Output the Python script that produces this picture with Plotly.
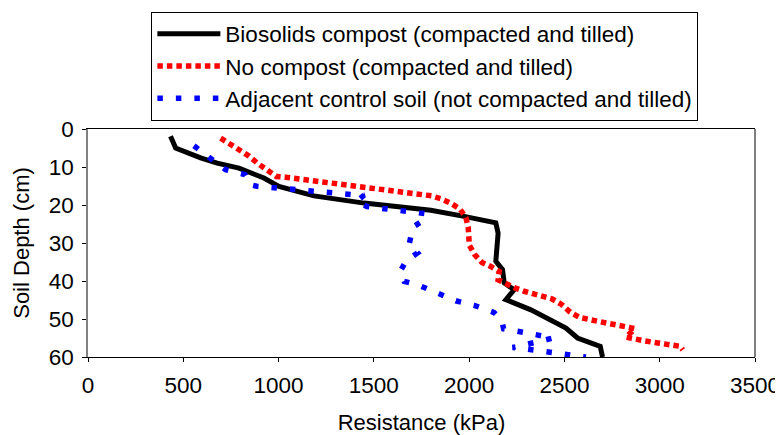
import plotly.graph_objects as go

# Biosolids compost (compacted and tilled)
bio_x = [433, 460, 591, 678, 792, 923, 1002, 1186, 1449, 1799, 1974, 2140, 2152, 2140,
         2175, 2184, 2236, 2193, 2324, 2508, 2569, 2688, 2700]
bio_y = [1.9, 5.0, 7.6, 9.0, 10.3, 12.9, 15.1, 17.6, 19.5, 21.4, 23.0, 24.7, 27.4, 34.8,
         37.0, 40.5, 42.3, 44.9, 47.6, 52.4, 55.0, 57.2, 60.0]

# No compost (compacted and tilled)
no_x = [696, 745, 792, 841, 889, 937, 988, 1037, 1133, 1350, 1562, 1611, 1804, 1853, 1902,
        1951, 1983, 1995, 2001, 2001, 2030, 2067, 2114, 2158, 2152, 2193, 2240, 2289,
        2338, 2385, 2434, 2483, 2530, 2580, 2629, 2676, 2725, 2772, 2821, 2869, 2823,
        2867, 2916, 2963, 3012, 3059, 3108, 3121]
no_y = [2.4, 3.9, 5.4, 7.0, 9.0, 10.7, 12.5, 12.7, 13.3, 14.6, 16.0, 16.2, 17.6, 18.4, 19.5,
        21.0, 23.3, 25.8, 28.3, 30.6, 33.1, 35.1, 36.2, 37.5, 39.7, 40.8, 41.8, 42.7,
        43.3, 43.9, 44.7, 46.1, 48.2, 49.6, 50.3, 50.6, 51.1, 51.6, 51.9, 52.5, 54.8,
        55.4, 55.7, 56.1, 56.4, 56.8, 57.2, 58.1]

# Adjacent control soil (not compacted and tilled)
ctl_x = [556, 600, 652, 722, 824, 853, 889, 990, 1091, 1193, 1295, 1396, 1449, 1410, 1463,
         1568, 1669, 1773, 1764, 1711, 1694, 1685, 1729, 1668, 1638, 1659, 1725, 1816,
         1930, 2026, 2131, 2170, 2181, 2286, 2391, 2438, 2394, 2293, 2228, 2254, 2352,
         2455, 2560, 2613]
ctl_y = [4.4, 5.9, 8.1, 10.7, 12.0, 14.7, 15.1, 15.5, 16.0, 16.4, 16.7, 17.3, 17.4, 19.0, 20.4,
         21.0, 21.7, 22.3, 23.9, 25.6, 28.3, 30.4, 32.6, 34.8, 37.5, 40.1, 40.9, 42.7,
         45.2, 46.4, 48.3, 50.2, 52.6, 53.5, 54.4, 55.0, 55.6, 56.8, 57.5, 57.6, 58.3,
         59.0, 59.6, 60.0]

x_ticks = [0, 500, 1000, 1500, 2000, 2500, 3000, 3500]
y_ticks = [0, 10, 20, 30, 40, 50, 60]

FONT = "Liberation Sans, Arial, sans-serif"

fig = go.Figure()
fig.add_trace(go.Scatter(x=bio_x, y=bio_y, mode="lines",
                         name="Biosolids compost (compacted and tilled)",
                         line=dict(color="black", width=5)))
fig.add_trace(go.Scatter(x=no_x, y=no_y, mode="lines",
                         name="No compost (compacted and tilled)",
                         line=dict(color="#ff0000", width=5.5, dash="5.5px,4px")))
fig.add_trace(go.Scatter(x=ctl_x, y=ctl_y, mode="lines",
                         name="Adjacent control soil (not compacted and tilled)",
                         line=dict(color="#0000ff", width=5.5, dash="5.5px,13px")))

# the page has an 8px body margin, so the figure is 8px smaller than the window
fig.update_layout(
    width=775, height=427,
    margin=dict(l=80, r=28, t=121, b=78, autoexpand=False),
    paper_bgcolor="white", plot_bgcolor="white",
    font=dict(family=FONT, size=22, color="black"),
    showlegend=True,
    legend=dict(x=0.095, y=1.515, xanchor="left", yanchor="top",
                bgcolor="white", bordercolor="black", borderwidth=1,
                font=dict(family=FONT, size=22.5, color="black"),
                itemwidth=63, tracegroupgap=0),
    xaxis=dict(range=[0, 3500], tickvals=x_ticks, ticktext=[str(v) for v in x_ticks],
               automargin=False,
               showgrid=False, zeroline=False, showline=True, linecolor="black",
               linewidth=1, mirror=True, ticks="outside", ticklen=4, tickcolor="black",
               tickfont=dict(size=22.5), ticklabelstandoff=4,
               title=dict(text="Resistance (kPa)", font=dict(size=22), standoff=26)),
    yaxis=dict(range=[60, 0], tickvals=y_ticks, ticktext=[str(v) for v in y_ticks],
               automargin=False,
               showgrid=False, zeroline=False, showline=True, linecolor="#808080",
               linewidth=1.5, ticks="outside", ticklen=4, tickcolor="black",
               tickfont=dict(size=22.5), ticklabelstandoff=4,
               title=dict(text="Soil Depth (cm)", font=dict(size=22), standoff=13)),
)
fig.add_shape(type="line", xref="paper", yref="paper", x0=1, x1=1, y0=0, y1=1,
              line=dict(color="black", width=1))

fig.write_html("out.html")
